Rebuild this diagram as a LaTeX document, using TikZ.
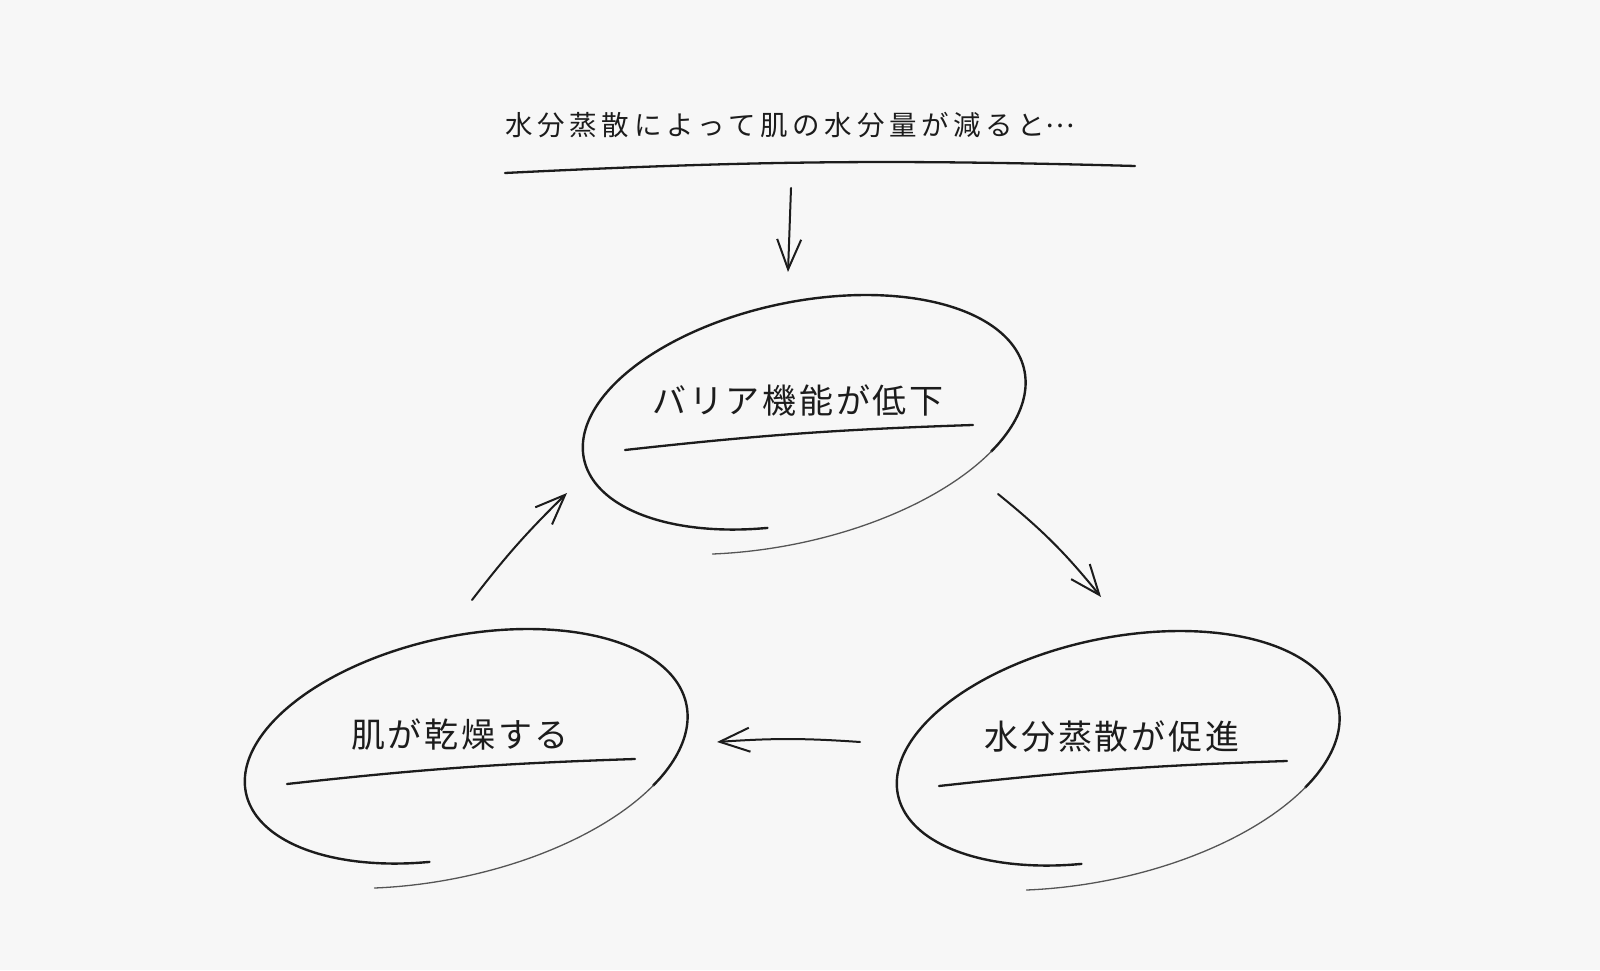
\documentclass[tikz,border=0pt]{standalone}
\usepackage{fontspec}
\usetikzlibrary{arrows.meta,calc}
\newfontfamily\leadfont{Noto Sans CJK JP}[LetterSpace=17]
\newfontfamily\ringfont{Noto Sans CJK JP}[LetterSpace=8]
\definecolor{paper}{HTML}{F7F7F7}
\definecolor{ink}{HTML}{1C1C1C}
\tikzset{declare function={ringr(\t)=1-0.05*((\t+116)/371)^4+0.16*((255-\t)/371)^6;}}
\newcommand{\sketchring}[1]{%
  \begin{scope}[shift={($(#1)+(2,-14)$)}, rotate=12]
    \draw[ring] plot[domain=255:-40, samples=90, smooth]
      ({225*ringr(\x)*cos(\x)}, {113*ringr(\x)*sin(\x)});
    \draw[ring tail] plot[domain=-40:-116, samples=30, smooth]
      ({225*ringr(\x)*cos(\x)}, {113*ringr(\x)*sin(\x)});
  \end{scope}}

\begin{document}
\begin{tikzpicture}[
  x=0.5pt, y=0.5pt,
  every node/.style={text=ink},
  lead/.style={font={\leadfont\fontsize{13.75}{16}\selectfont}},
  label/.style={font={\ringfont\fontsize{17}{20}\selectfont}},
  ring/.style={draw=ink, line width=1.2pt, line cap=round},
  ring tail/.style={draw=ink!75, line width=0.65pt, line cap=round},
  scribble/.style={draw=ink, line width=1.15pt, line cap=round},
  pen arrow/.style={draw=ink, line width=1pt, line cap=round, -{Straight Barb[length=15pt, width=12pt]}},
]

% Page
\fill[paper] (0,0) rectangle (1600,970);

% Lead sentence
\node[lead] (lead) at (790,845) {水分蒸散によって肌の水分量が減ると\raisebox{.3em}{…}};
\draw[scribble] ($(lead)+(-285,-48)$) to[bend left=2.2] ($(lead)+(345,-41)$);

% The three steps of the loop
\node[label] (barrier) at (798,569) {バリア機能が低下};
\node[label] (evap) at (1112,233) {水分蒸散が促進};
\node[label] (dry) at (460,235) {肌が乾燥する};

\sketchring{barrier}
\sketchring{evap}
\sketchring{dry}

\draw[scribble] ($(barrier)+(-173,-49)$) to[bend left=2.2] ($(barrier)+(175,-24)$);
\draw[scribble] ($(evap)+(-173,-49)$) to[bend left=2.2] ($(evap)+(175,-24)$);
\draw[scribble] ($(dry)+(-173,-49)$) to[bend left=2.2] ($(dry)+(175,-24)$);

% Arrows
\draw[pen arrow] ($(lead)+(1,-63)$) -- ($(barrier)+(-10,129)$);
\draw[pen arrow] ($(barrier)+(200,-93)$) to[bend left=6] ($(evap)+(-11,140)$);
\draw[pen arrow] ($(evap)+(-252,-5)$) to[bend right=4] ($(dry)+(257,-7)$);
\draw[pen arrow] ($(dry)+(12,135)$) to[bend left=4] ($(barrier)+(-231,-92)$);

\end{tikzpicture}
\end{document}
